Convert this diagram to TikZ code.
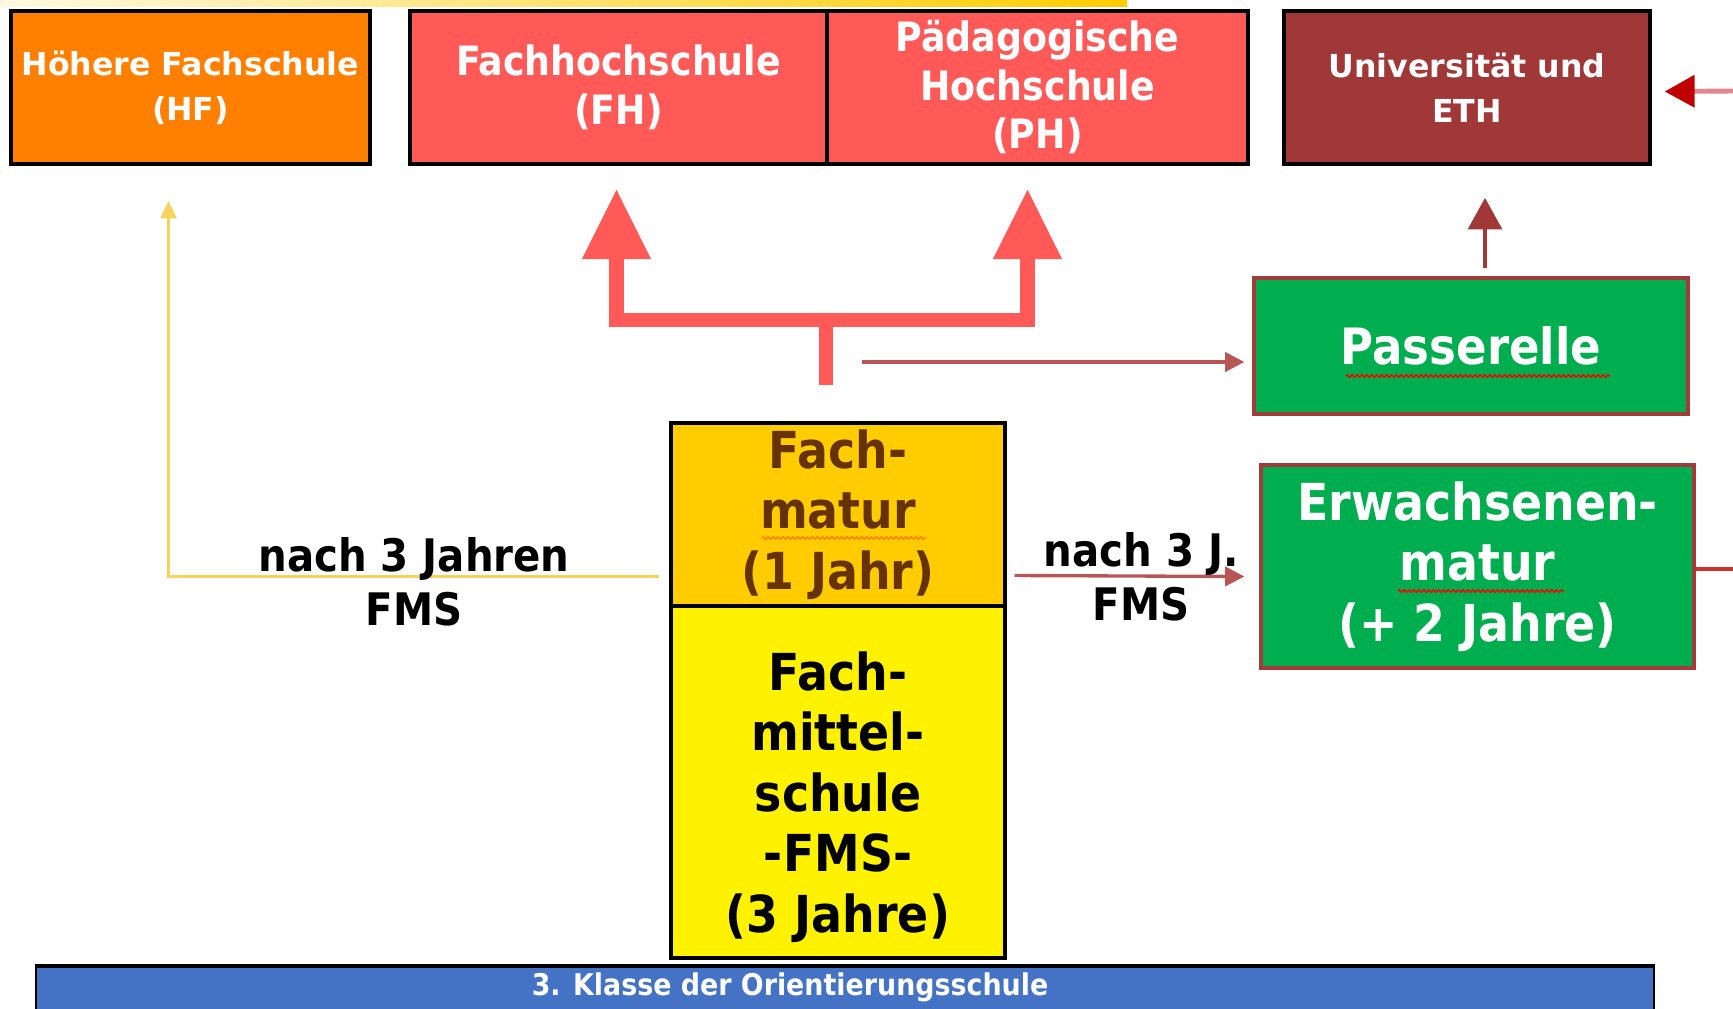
\documentclass[tikz,border=0pt]{standalone}
\usepackage{fontspec}
\setmainfont{DejaVu Sans}
\newfontfamily\schmal{DejaVu Sans Condensed}
\usetikzlibrary{arrows.meta,decorations.pathmorphing}
\definecolor{hforange}{HTML}{FF8000}
\definecolor{fhrot}{HTML}{FF5A57}
\definecolor{unirot}{HTML}{A03838}
\definecolor{passgruen}{HTML}{00AD4F}
\definecolor{randrot}{HTML}{A33B3B}
\definecolor{fmgold}{HTML}{FFCC00}
\definecolor{fmbraun}{HTML}{663300}
\definecolor{osblau}{HTML}{4472C4}
\definecolor{pfeilgelb}{HTML}{F7D35C}
\definecolor{pfeilrot}{HTML}{B85656}
\definecolor{randpfeil}{HTML}{E08890}
\definecolor{dunkelrot}{HTML}{C00000}
\definecolor{linierot}{HTML}{D03030}

\begin{document}
\begin{tikzpicture}[x=0.02cm,y=-0.02cm,
    schule/.style={draw=black,line width=2pt,text=white,align=center,inner sep=0pt,minimum height=3.06cm},
    weg/.style={draw=randrot,line width=1.9pt,fill=passgruen,text=white,align=center,inner sep=0pt},
    fmbox/.style={draw=black,line width=1.9pt,align=center,inner sep=0pt,minimum width=6.68cm},
    breit/.style={font=\bfseries\fontsize{18pt}{25.5pt}\selectfont},
    mittel/.style={font=\schmal\bfseries\fontsize{23pt}{27.6pt}\selectfont},
    gross/.style={font=\schmal\bfseries\fontsize{29pt}{34.5pt}\selectfont},
    notiz/.style={font=\schmal\bfseries\fontsize{25.5pt}{31pt}\selectfont,align=center},
    duenn/.style={pfeilrot,line width=1.9pt,-{Triangle[width=11pt,length=11pt]}},
    welle/.style={decorate,decoration={zigzag,amplitude=0.7pt,segment length=2.8pt},line width=0.8pt}]

    \useasboundingbox (0,0) rectangle (1733,1008);
    \shade[left color=fmgold!12,right color=fmgold] (0,0) rectangle (1127,6);

    \node[schule,breit,fill=hforange,minimum width=7.18cm] (hf) at (190.5,87.5) {Höhere Fachschule\\(HF)};
    \node[schule,mittel,fill=fhrot,minimum width=8.34cm] (fh) at (618.5,87.5) {Fachhochschule\\(FH)};
    \node[schule,mittel,fill=fhrot,minimum width=8.42cm] (ph) at (1037.5,87.5) {Pädagogische\\Hochschule\\(PH)};
    \node[schule,breit,fill=unirot,minimum width=7.32cm] (uni) at (1467,87.5) {Universität und\\ETH};
    \node[weg,font=\schmal\bfseries\fontsize{28.5pt}{33pt}\selectfont,minimum width=8.68cm,minimum height=2.72cm] (pass) at (1471,346) {Passerelle};
    \node[weg,gross,minimum width=8.66cm,minimum height=4.06cm] (erw) at (1477.5,566.5) {Erwachsenen-\\matur\\(+ 2 Jahre)};
    \node[fmbox,gross,fill=fmgold,text=fmbraun,minimum height=3.66cm] (fm) at (838,514.5) {Fach-\\matur\\(1 Jahr)};
    \node[fmbox,fill=yellow,minimum height=7.04cm] (fms) at (838,782) {};
    \node[gross,align=center,inner sep=0pt] (fmstext) at (838,797) {Fach-\\mittel-\\schule\\-FMS-\\(3 Jahre)};

    \fill[osblau] (36,965) rectangle (1654,1012);
    \draw[line width=0.6pt] (36,1012) -- (36,965) -- (1654,965) -- (1654,1012);
    \draw[line width=2.4pt] (35,966) -- (1655,966);
    \node[text=white,font=\schmal\bfseries\fontsize{17pt}{19pt}\selectfont] (os) at (790,987) {3. Klasse der Orientierungsschule};

    \draw[pfeilgelb,line width=1.7pt,-{Triangle[width=9pt,length=10pt]}] ([shift={(-10,62)}]fm.west) -| ([shift={(-22,35)}]hf.south);
    \node[notiz] (nachjahren) at (414,582) {nach 3 Jahren\\FMS};

    \draw[fhrot,line width=8pt,line join=miter,{Triangle[width=37pt,length=40pt]}-{Triangle[width=37pt,length=40pt]}] ([shift={(-2,23)}]fh.south) |- ([shift={(-12,-101)}]fm.north) -| ([shift={(-10,23)}]ph.south);
    \draw[fhrot,line width=8pt] ([shift={(-12,-101)}]fm.north) -- ([shift={(-12,-36)}]fm.north);

    \draw[duenn] ([shift={(-390,16)}]pass.west) -- ([shift={(-8,16)}]pass.west);
    \draw[duenn] ([shift={(8,61)}]fm.east) -- ([shift={(-15,10)}]erw.west);
    \node[notiz] (nachj) at (1141,577) {nach 3 J.\\FMS};

    \draw[unirot,line width=2.8pt,-{Triangle[width=19pt,length=18pt]}] ([shift={(14,-8)}]pass.north) -- ([shift={(18,32)}]uni.south);

    \coordinate (rechtsoben) at (1733,91);
    \coordinate (rechtsunten) at (1733,568);
    \draw[randpfeil,line width=2.8pt,-{Triangle[width=18pt,length=17pt,color=dunkelrot]}] (rechtsoben) -- ([shift={(13,4)}]uni.east);
    \draw[linierot,line width=2.2pt] ([yshift=-1.5]erw.east) -- ([yshift=-1.5]erw.east -| rechtsunten);

    \draw[red,welle] (1346,376) -- (1610,376);
    \draw[red,welle] (1398,591) -- (1564,591);
    \draw[orange,welle] (762,538) -- (926,538);

\end{tikzpicture}
\end{document}
